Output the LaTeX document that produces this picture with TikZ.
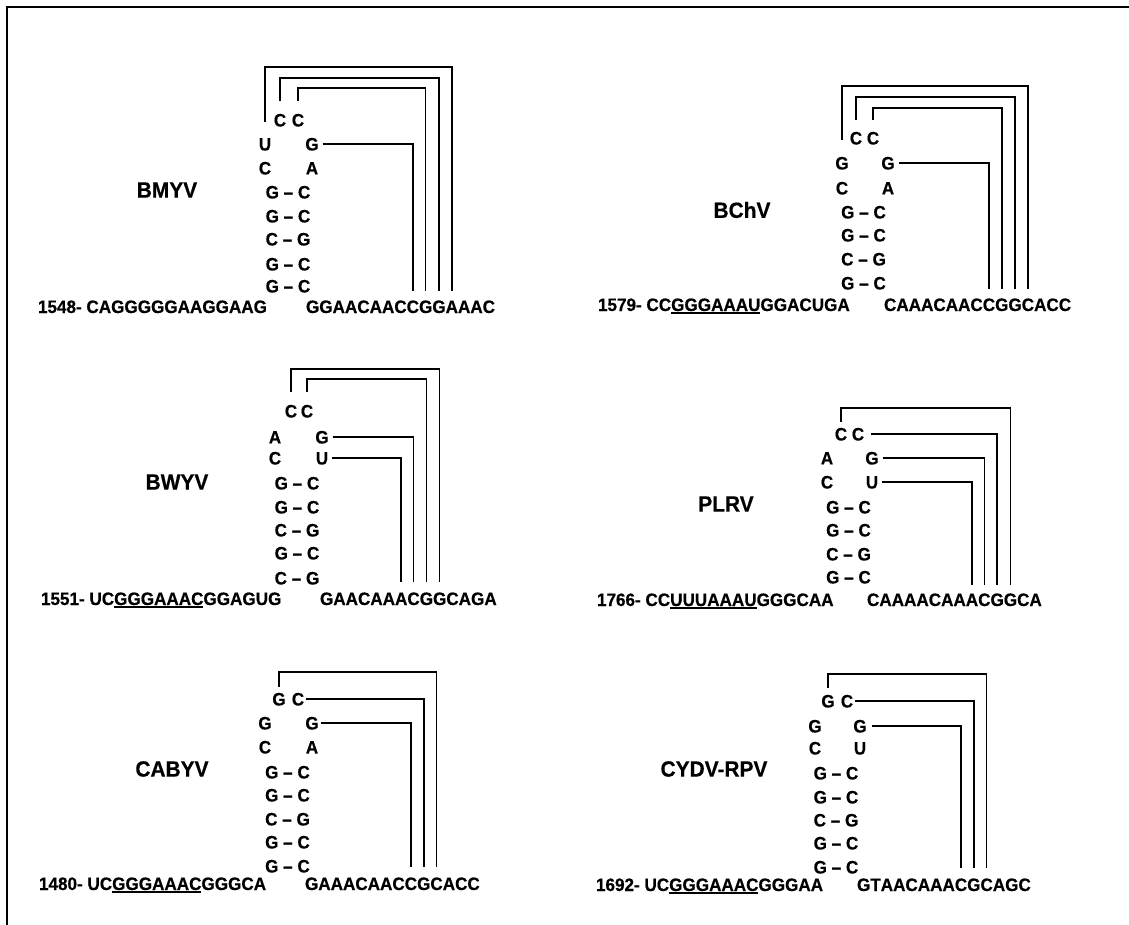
\documentclass[tikz,border=0pt]{standalone}
\usepackage{fontspec}
\setmainfont{Liberation Sans}[FakeStretch=0.95, BoldFeatures={FakeBold=0.5}]
\newcommand\ulr[1]{\setbox0=\hbox{#1}\rlap{\rule[-3.2pt]{\wd0}{1.8pt}}\box0}
\tikzset{
  nt/.style={inner sep=0pt, outer sep=0pt, font=\bfseries\fontsize{18}{18}\selectfont, text height=12.9pt, text depth=0pt},
  seq/.style={nt},
  title/.style={inner sep=0pt, outer sep=0pt, font=\bfseries\fontsize{22}{22}\selectfont},
  conn/.style={line width=1.5pt},
  frame/.style={line width=1.7pt}
}
\newcommand\rseq[3]{%
  \node[seq, anchor=base west] (#1-0) at (#2) {};
  \foreach \ch [count=\i] in {#3} {%
    \pgfmathtruncatemacro\j{\i-1}%
    \node[seq, anchor=base west] (#1-\i) at (#1-\j.base east) {\ch};
  }%
}
\newcommand\stemrows[3]{% prefix, x, list y/left/right
  \foreach \yy/\nA/\nB [count=\k] in {#3} {%
    \node[nt] (#1\k) at (#2,\yy) {\nA\ \textendash\ \nB};
  }%
}
\newcommand\pairline[3]{% start, top y, end
  \path (#1) coordinate (bs);
  \draw[conn] (bs) -- (bs |- 0,#2) -| (#3);
}
\begin{document}
\begin{tikzpicture}[x=1pt,y=-1pt]
\useasboundingbox (0,0) rectangle (1129,925);
\coordinate (fb) at (7,925);
\coordinate (fc) at (7,7);
\coordinate (fr) at (1129,7);
\draw[frame] (fb) -- (fc) -- (fr);

% ---------- Panel A: BMYV
\node[title] (tA) at (167,190) {BMYV};
\node[seq, anchor=base west] (lA) at (38,313) {1548- CAGGGGGAAGGAAG};
\rseq{rA}{305,313}{G,G,A,A,C,A,A,C,C,G,G,A,A,A,C}
\stemrows{sA}{288}{192/G/C,216/G/C,239/C/G,264/G/C,286/G/C}
\node[nt] (aL1) at (265,144) {U};
\node[nt] (aL2) at (265,168) {C};
\node[nt] (aR1) at (312,144) {G};
\node[nt] (aR2) at (312,168) {A};
\node[nt] (aT1) at (280,120) {C};
\node[nt] (aT2) at (298,120) {C};
\pairline{[yshift=16pt]aL1.north}{67}{[yshift=9pt]rA-12.north}
\pairline{[yshift=13pt]aT1.north}{78}{[yshift=9pt]rA-11.north}
\pairline{[yshift=13pt]aT2.north}{88}{[yshift=9pt]rA-10.north}
\draw[conn] ([xshift=4pt]aR1.east) -| ([yshift=9pt]rA-9.north);

% ---------- Panel B: BChV
\node[title] (tB) at (742,210) {BChV};
\node[seq, anchor=base west] (lB) at (598,311) {1579- CC\ulr{GGGAAAU}GGACUGA};
\rseq{rB}{883,311}{C,A,A,A,C,A,A,C,C,G,G,C,A,C,C}
\stemrows{sB}{863.5}{212/G/C,235/G/C,259/C/G,283/G/C}
\node[nt] (bL1) at (842,163) {G};
\node[nt] (bL2) at (842,188) {C};
\node[nt] (bR1) at (888,163) {G};
\node[nt] (bR2) at (888,188) {A};
\node[nt] (bT1) at (856,138) {C};
\node[nt] (bT2) at (873,138) {C};
\pairline{[yshift=17pt]bL1.north}{86}{[yshift=9pt]rB-12.north}
\pairline{[yshift=12pt]bT1.north}{97}{[yshift=9pt]rB-11.north}
\pairline{[yshift=12pt]bT2.north}{108}{[yshift=9pt]rB-10.north}
\draw[conn] ([xshift=4pt]bR1.east) -| ([yshift=9pt]rB-9.north);

% ---------- Panel C: BWYV
\node[title] (tC) at (177,482) {BWYV};
\node[seq, anchor=base west] (lC) at (41,605) {1551- UC\ulr{GGGAAAC}GGAGUG};
\rseq{rC}{319,605}{G,A,A,C,A,A,A,C,G,G,C,A,G,A}
\stemrows{sC}{297}{483/G/C,507/G/C,530/C/G,553/G/C,578/C/G}
\node[nt] (cL1) at (275,437) {A};
\node[nt] (cL2) at (275,458) {C};
\node[nt] (cR1) at (322,437) {G};
\node[nt] (cR2) at (322,458) {U};
\node[nt] (cT1) at (291,411) {C};
\node[nt] (cT2) at (307,411) {C};
\pairline{[yshift=13pt]cT1.north}{369}{[yshift=10pt]rC-10.north}
\pairline{[yshift=13pt]cT2.north}{379}{[yshift=10pt]rC-9.north}
\draw[conn] ([xshift=4pt]cR1.east) -| ([yshift=10pt]rC-8.north);
\draw[conn] ([xshift=4pt]cR2.east) -| ([yshift=10pt]rC-7.north);

% ---------- Panel D: PLRV
\node[title] (tD) at (726,504) {PLRV};
\node[seq, anchor=base west] (lD) at (597,606) {1766- CC\ulr{UUUAAAU}GGGCAA};
\rseq{rD}{866,606}{C,A,A,A,A,C,A,A,A,C,G,G,C,A}
\stemrows{sD}{848.5}{507/G/C,530/G/C,554/C/G,577/G/C}
\node[nt] (dL1) at (827,458) {A};
\node[nt] (dL2) at (827,482) {C};
\node[nt] (dR1) at (872,458) {G};
\node[nt] (dR2) at (872,482) {U};
\node[nt] (dT1) at (841,434) {C};
\node[nt] (dT2) at (858,434) {C};
\pairline{[yshift=6pt]dT1.north}{408}{[yshift=8pt]rD-12.north}
\draw[conn] ([xshift=7pt]dT2.east) -| ([yshift=8pt]rD-11.north);
\draw[conn] ([xshift=4pt]dR1.east) -| ([yshift=8pt]rD-10.north);
\draw[conn] ([xshift=4pt]dR2.east) -| ([yshift=8pt]rD-9.north);

% ---------- Panel E: CABYV
\node[title] (tE) at (172,769) {CABYV};
\node[seq, anchor=base west] (lE) at (39,890) {1480- UC\ulr{GGGAAAC}GGGCA};
\rseq{rE}{304,890}{G,A,A,A,C,A,A,C,C,G,C,A,C,C}
\stemrows{sE}{287.5}{772/G/C,795/G/C,819/C/G,842/G/C,866/G/C}
\node[nt] (eL1) at (265,723) {G};
\node[nt] (eL2) at (265,747) {C};
\node[nt] (eR1) at (312,723) {G};
\node[nt] (eR2) at (312,747) {A};
\node[nt] (eT1) at (279,699) {G};
\node[nt] (eT2) at (298,699) {C};
\pairline{[yshift=6pt]eT1.north}{672}{[yshift=10pt]rE-11.north}
\draw[conn] ([xshift=2pt]eT2.east) -| ([yshift=10pt]rE-10.north);
\draw[conn] ([xshift=2pt]eR1.east) -| ([yshift=10pt]rE-9.north);

% ---------- Panel F: CYDV-RPV
\node[title] (tF) at (714,769) {CYDV-RPV};
\node[seq, anchor=base west] (lF) at (596,891) {1692- UC\ulr{GGGAAAC}GGGAA};
\rseq{rF}{856,891}{G,T,A,A,C,A,A,A,C,G,C,A,G,C}
\stemrows{sF}{836}{773/G/C,797/G/C,820/C/G,843/G/C,867/G/C}
\node[nt] (fL1) at (815,726) {G};
\node[nt] (fL2) at (815,748) {C};
\node[nt] (fR1) at (860,726) {G};
\node[nt] (fR2) at (860,748) {U};
\node[nt] (fT1) at (828,701) {G};
\node[nt] (fT2) at (847,701) {C};
\pairline{[yshift=7pt]fT1.north}{674}{[yshift=10pt]rF-11.north}
\draw[conn] ([xshift=2pt]fT2.east) -| ([yshift=10pt]rF-10.north);
\draw[conn] ([xshift=5pt]fR1.east) -| ([yshift=10pt]rF-9.north);
\end{tikzpicture}
\end{document}
